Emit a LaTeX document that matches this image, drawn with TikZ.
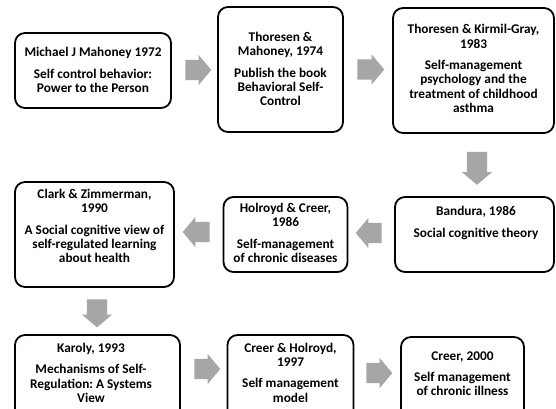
\documentclass[tikz,border=0pt]{standalone}
\usepackage{fontspec}
\setmainfont{Carlito}
\frenchspacing
\usetikzlibrary{shapes.arrows}
\definecolor{arrowgray}{HTML}{A6A6A6}
\tikzset{
  box/.style={draw=black, line width=1.8pt, rounded corners=10pt, fill=white},
  txt/.style={align=center, font=\bfseries\fontsize{13.3}{14.3}\selectfont, inner sep=0pt},
  blockarrow/.style={single arrow, fill=arrowgray, draw=none, inner sep=0pt,
    single arrow head extend=5pt, single arrow tip angle=100,
    single arrow head indent=0pt},
}
\newcommand{\shaft}{\rule{0pt}{20pt}}
\begin{document}
\begin{tikzpicture}[x=1pt,y=-1pt]
\useasboundingbox (0,0) rectangle (556,408);
% row 1
\node[box, minimum width=156pt, minimum height=75pt] (b1) at (93,70.5) {};
\node[txt] (t1) at (93,70) {Michael J Mahoney 1972\\[7pt]Self control behavior:\\Power to the Person};
\node[box, minimum width=125pt, minimum height=125pt] (b2) at (280.5,69.5) {};
\node[txt] (t2) at (280.5,69) {Thoresen \&\\Mahoney, 1974\\[7pt]Publish the book\\Behavioral Self-\\Control};
\node[box, minimum width=161pt, minimum height=125pt] (b3) at (473.5,70.5) {};
\node[txt] (t3) at (473.5,68.5) {Thoresen \& Kirmil-Gray,\\1983\\[7pt]Self-management\\psychology and the\\treatment of childhood\\asthma};
% row 2
\node[box, minimum width=159pt, minimum height=75pt] (b4) at (474.5,234.5) {};
\node[txt] (t4) at (476,223) {Bandura, 1986\\[7pt]Social cognitive theory};
\node[box, minimum width=124pt, minimum height=75pt] (b5) at (285.5,234.5) {};
\node[txt] (t5) at (285.5,233) {Holroyd \& Creer,\\1986\\[7pt]Self-management\\of chronic diseases};
\node[box, minimum width=159pt, minimum height=105pt] (b6) at (94.5,234.5) {};
\node[txt] (t6) at (94.5,226) {Clark \& Zimmerman,\\1990\\[7pt]A Social cognitive view of\\self-regulated learning\\about health};
% row 3
\node[box, minimum width=165pt, minimum height=90pt] (b7) at (97.5,380) {};
\node[txt] (t7) at (91,373) {Karoly, 1993\\[7pt]Mechanisms of Self-\\Regulation: A Systems\\View};
\node[box, minimum width=126pt, minimum height=90pt] (b8) at (290.5,380) {};
\node[txt] (t8) at (290.5,372.5) {Creer \& Holroyd,\\1997\\[7pt]Self management\\model};
\node[box, minimum width=123pt, minimum height=90pt] (b9) at (462.5,382) {};
\node[txt] (t9) at (462.5,373.5) {Creer, 2000\\[7pt]Self management\\of chronic illness};
% arrows
\node[blockarrow, minimum height=26pt] (a1) at (194,70) {\shaft};
\node[blockarrow, minimum height=27pt] (a2) at (366.5,69.5) {\shaft};
\node[blockarrow, minimum height=33pt, rotate=-90] (a3) at (477,164) {\shaft};
\node[blockarrow, minimum height=26pt, rotate=180] (a4) at (373,233) {\shaft};
\node[blockarrow, minimum height=27pt, rotate=180] (a5) at (200.5,232) {\shaft};
\node[blockarrow, minimum height=28pt, rotate=-90] (a6) at (97,309) {\shaft};
\node[blockarrow, minimum height=26pt] (a7) at (203,369) {\shaft};
\node[blockarrow, minimum height=26pt] (a8) at (375,373) {\shaft};
\end{tikzpicture}
\end{document}
